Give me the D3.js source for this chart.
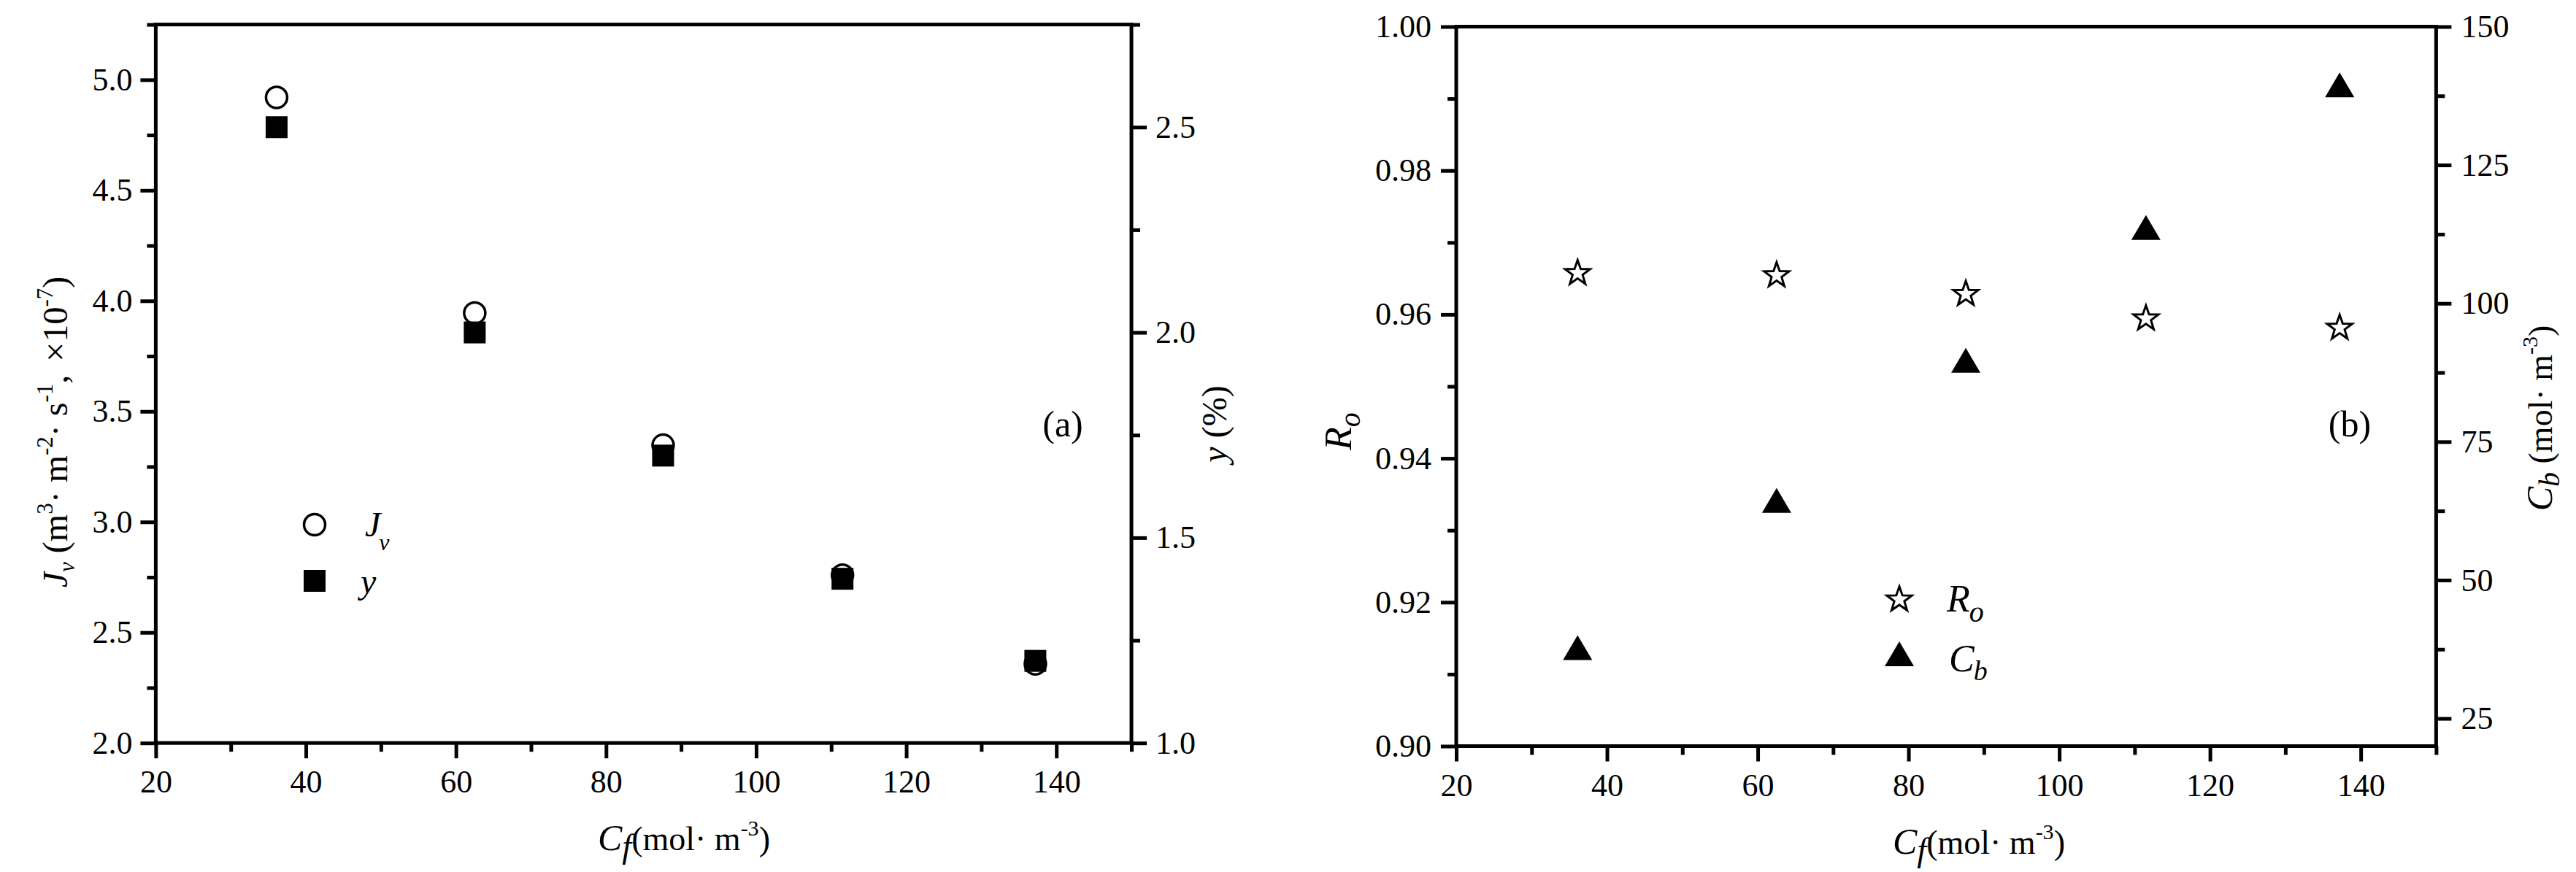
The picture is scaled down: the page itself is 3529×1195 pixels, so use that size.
<!DOCTYPE html>
<html><head><meta charset="utf-8">
<script src="https://cdn.jsdelivr.net/npm/d3@7"></script>
<style>
body{margin:0;background:#fff;}
svg text{font-family:"Liberation Serif","Times New Roman",serif;fill:#000;}
</style></head><body>
<svg id="c" width="3529" height="1195"></svg>
<script>
// ---- data ----
const cf   = [36.1, 62.5, 87.6, 111.5, 137.2];
const jv   = [4.92, 3.945, 3.347, 2.759, 2.358];
const yPct = [2.50, 2.00, 1.70, 1.40, 1.20];
const ro   = [0.9659, 0.9656, 0.9630, 0.9596, 0.9583];
const cb   = [37.8, 64.4, 89.7, 113.7, 139.5];
// ---- ticks ----
const cfTicks = [20, 40, 60, 80, 100, 120, 140];
const cfMinor = [30, 50, 70, 90, 110, 130, 150];
const jvTicks = [2.0, 2.5, 3.0, 3.5, 4.0, 4.5, 5.0];
const jvMinor = [2.25, 2.75, 3.25, 3.75, 4.25, 4.75, 5.25];
const yTicks  = [1.0, 1.5, 2.0, 2.5];
const yMinor  = [1.25, 1.75, 2.25, 2.75];
const roTicks = [0.90, 0.92, 0.94, 0.96, 0.98, 1.00];
const roMinor = [0.91, 0.93, 0.95, 0.97, 0.99];
const cbTicks = [25, 50, 75, 100, 125, 150];
const cbMinor = [37.5, 62.5, 87.5, 112.5, 137.5];

const svg = d3.select("#c");
const SW = 5, MAJ = 21, MIN = 12, FS = 44;

const A = {l: 213.4, r: 1550, t: 33.6, b: 1018.2};
const B = {l: 1995, r: 3337.4, t: 36.5, b: 1022.5};

const xA = d3.scaleLinear().domain([20, 150]).range([A.l, A.r]);
const yAL = d3.scaleLinear().domain([2.0, 5.25]).range([A.b, A.t]);
const yAR = d3.scaleLinear().domain([1.0, 2.75]).range([A.b, A.t]);
const xB = d3.scaleLinear().domain([20, 150]).range([B.l, B.r]);
const yBL = d3.scaleLinear().domain([0.90, 1.00]).range([B.b, B.t]);
const yBR = d3.scaleLinear().domain([20, 150]).range([B.b, B.t]);

function styleAxis(g) {
  g.select(".domain").remove();
  g.selectAll(".tick line").attr("stroke", "#000").attr("stroke-width", SW);
  g.selectAll(".tick text").attr("font-size", FS).attr("font-family", "Liberation Serif").attr("fill", "#000");
}
function addAxis(make, tr, ticks, minor, fmt, pad) {
  const g = svg.append("g").attr("transform", tr);
  g.call(make().tickValues(ticks).tickSize(MAJ).tickPadding(pad).tickFormat(fmt));
  styleAxis(g);
  const m = svg.append("g").attr("transform", tr);
  m.call(make().tickValues(minor).tickSize(MIN).tickFormat(""));
  styleAxis(m);
  return g;
}

function frame(P) {
  svg.append("rect").attr("x", P.l).attr("y", P.t).attr("width", P.r - P.l).attr("height", P.b - P.t)
    .attr("fill", "none").attr("stroke", "#000").attr("stroke-width", SW);
}
frame(A); frame(B);

// Panel A axes
addAxis(() => d3.axisBottom(xA), `translate(0,${A.b})`, cfTicks, cfMinor, d3.format("d"), 16);
addAxis(() => d3.axisLeft(yAL), `translate(${A.l},0)`, jvTicks, jvMinor, d3.format(".1f"), 11);
addAxis(() => d3.axisRight(yAR), `translate(${A.r},0)`, yTicks, yMinor, d3.format(".1f"), 12);
// Panel B axes
addAxis(() => d3.axisBottom(xB), `translate(0,${B.b})`, cfTicks, cfMinor, d3.format("d"), 16);
addAxis(() => d3.axisLeft(yBL), `translate(${B.l},0)`, roTicks, roMinor, d3.format(".2f"), 13);
addAxis(() => d3.axisRight(yBR), `translate(${B.r},0)`, cbTicks, cbMinor, d3.format("d"), 13);

// ---- markers ----
const idx = d3.range(cf.length);
const SQ = 30;
function triPath(cx, cy, w, h) {
  return `M${cx},${cy - h/2}L${cx + w/2},${cy + h/2}L${cx - w/2},${cy + h/2}Z`;
}
function starPath(cx, cy, R) {
  const r = R * 0.4;
  const pts = [];
  for (let k = 0; k < 10; k++) {
    const rad = k % 2 === 0 ? R : r;
    const a = -Math.PI / 2 + k * Math.PI / 5;
    pts.push([Math.cos(a) * rad, Math.sin(a) * rad]);
  }
  const ys = pts.map(p => p[1]);
  const off = (d3.min(ys) + d3.max(ys)) / 2;
  return "M" + pts.map(p => `${(cx + p[0]).toFixed(2)},${(cy + p[1] - off).toFixed(2)}`).join("L") + "Z";
}

// Panel A: circles (Jv) then squares (y)
svg.append("g").selectAll("circle").data(idx).join("circle")
  .attr("cx", i => xA(cf[i])).attr("cy", i => yAL(jv[i])).attr("r", 14.5)
  .attr("fill", "#fff").attr("stroke", "#000").attr("stroke-width", 3.5);
svg.append("g").selectAll("rect").data(idx).join("rect")
  .attr("x", i => xA(cf[i]) - SQ/2).attr("y", i => yAR(yPct[i]) - SQ/2)
  .attr("width", SQ).attr("height", SQ).attr("fill", "#000");

// Panel B: stars (Ro) and triangles (Cb)
svg.append("g").selectAll("path").data(idx).join("path")
  .attr("d", i => starPath(xB(cf[i]), yBL(ro[i]), 18))
  .attr("fill", "#fff").attr("stroke", "#000").attr("stroke-width", 3).attr("stroke-linejoin", "miter");
svg.append("g").selectAll("path").data(idx).join("path")
  .attr("d", i => triPath(xB(cf[i]), yBR(cb[i]), 40, 34))
  .attr("fill", "#000");

// ---- legends ----
svg.append("circle").attr("cx", 431).attr("cy", 719).attr("r", 14.5)
  .attr("fill", "#fff").attr("stroke", "#000").attr("stroke-width", 3.5);
svg.append("rect").attr("x", 431 - SQ/2).attr("y", 796 - SQ/2).attr("width", SQ).attr("height", SQ).attr("fill", "#000");
const lj = svg.append("text").attr("x", 500).attr("y", 735).attr("font-size", 48).attr("font-style", "italic");
lj.append("tspan").text("J");
lj.append("tspan").attr("font-size", 32).attr("dy", 19).attr("dx", -2).text("v");
svg.append("text").attr("x", 494).attr("y", 813).attr("font-size", 48).attr("font-style", "italic").text("y");

svg.append("path").attr("d", starPath(2602, 820, 18)).attr("fill", "#fff").attr("stroke", "#000").attr("stroke-width", 3);
svg.append("path").attr("d", triPath(2602, 896, 40, 34)).attr("fill", "#000");
const lr = svg.append("text").attr("x", 2667).attr("y", 838).attr("font-size", 52).attr("font-style", "italic");
lr.append("tspan").text("R");
lr.append("tspan").attr("font-size", 40).attr("dy", 14).attr("dx", -1).text("o");
const lc = svg.append("text").attr("x", 2670).attr("y", 920).attr("font-size", 52).attr("font-style", "italic");
lc.append("tspan").text("C");
lc.append("tspan").attr("font-size", 38).attr("dy", 12).attr("dx", -1).text("b");

// ---- panel labels ----
svg.append("text").attr("x", 1456).attr("y", 598).attr("text-anchor", "middle").attr("font-size", 50).text("(a)");
svg.append("text").attr("x", 3219).attr("y", 598).attr("text-anchor", "middle").attr("font-size", 50).text("(b)");

// ---- axis titles ----
function cfTitle(x, y) {
  const t = svg.append("text").attr("x", x).attr("y", y).attr("font-size", 46);
  t.append("tspan").attr("font-style", "italic").attr("font-size", 50).text("C");
  t.append("tspan").attr("font-style", "italic").attr("font-size", 46).attr("dy", 10).text("f");
  t.append("tspan").attr("dy", -10).text("(mol\u00B7 m");
  t.append("tspan").attr("font-size", 30).attr("dy", -20).text("-3");
  t.append("tspan").attr("dy", 20).text(")");
}
cfTitle(819, 1165);
cfTitle(2593, 1170);

// Jv title (left of panel A)
{
  const t = svg.append("text").attr("transform", "translate(92,592) rotate(-90)")
    .attr("text-anchor", "middle").attr("font-size", 48);
  t.append("tspan").attr("font-style", "italic").text("J");
  t.append("tspan").attr("font-style", "italic").attr("font-size", 31).attr("dy", 10).text("v");
  t.append("tspan").attr("dy", -10).text(" (m");
  t.append("tspan").attr("font-size", 31).attr("dy", -20).text("3");
  t.append("tspan").attr("dy", 20).text("\u00B7 m");
  t.append("tspan").attr("font-size", 31).attr("dy", -20).text("-2");
  t.append("tspan").attr("dy", 20).text("\u00B7 s");
  t.append("tspan").attr("font-size", 31).attr("dy", -20).text("-1");
  t.append("tspan").attr("dy", 20).text(",");
  t.append("tspan").attr("dx", 18).text("\u00D710");
  t.append("tspan").attr("font-size", 31).attr("dy", -20).text("-7");
  t.append("tspan").attr("dy", 20).text(")");
}
// y (%) title (right of panel A)
{
  const t = svg.append("text").attr("transform", "translate(1680,581) rotate(-90)")
    .attr("text-anchor", "middle").attr("font-size", 48);
  t.append("tspan").attr("font-style", "italic").text("y");
  t.append("tspan").text(" (%)");
}
// Ro title (left of panel B)
{
  const t = svg.append("text").attr("transform", "translate(1851,591) rotate(-90)")
    .attr("text-anchor", "middle").attr("font-size", 52).attr("font-style", "italic");
  t.append("tspan").text("R");
  t.append("tspan").attr("font-size", 40).attr("dy", 12).text("o");
}
// Cb title (right of panel B)
{
  const t = svg.append("text").attr("transform", "translate(3496,573) rotate(-90)")
    .attr("text-anchor", "middle").attr("font-size", 46);
  t.append("tspan").attr("font-style", "italic").attr("font-size", 50).text("C");
  t.append("tspan").attr("font-style", "italic").attr("font-size", 40).attr("dy", 10).text("b");
  t.append("tspan").attr("dy", -10).text(" (mol\u00B7 m");
  t.append("tspan").attr("font-size", 30).attr("dy", -20).text("-3");
  t.append("tspan").attr("dy", 20).text(")");
}
</script>
</body></html>
